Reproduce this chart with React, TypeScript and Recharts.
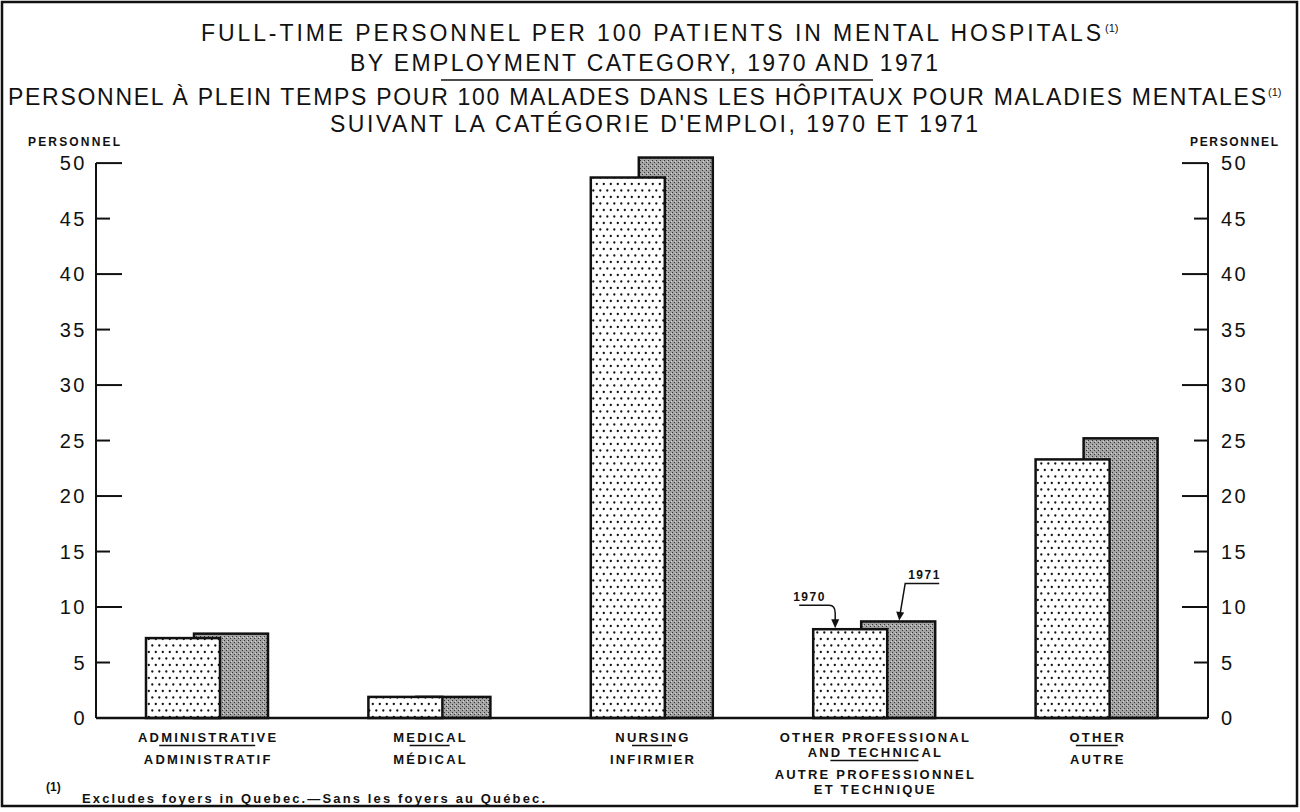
import { BarChart, Bar, XAxis, YAxis } from "recharts";

const categories = ["ADMINISTRATIVE", "MEDICAL", "NURSING", "OTHER PROFESSIONAL AND TECHNICAL", "OTHER"];
const englishLabels = [["ADMINISTRATIVE"], ["MEDICAL"], ["NURSING"], ["OTHER PROFESSIONAL", "AND TECHNICAL"], ["OTHER"]];
const frenchLabels = [["ADMINISTRATIF"], ["MÉDICAL"], ["INFIRMIER"], ["AUTRE PROFESSIONNEL", "ET TECHNIQUE"], ["AUTRE"]];
const values1970 = [7.2, 1.9, 48.7, 8.0, 23.3];
const values1971 = [7.6, 1.9, 50.5, 8.7, 25.2];
const yTicks = [0, 5, 10, 15, 20, 25, 30, 35, 40, 45, 50];
const annotated = "OTHER PROFESSIONAL AND TECHNICAL";

const data = categories.map((name, i) => ({ name, y1970: values1970[i], y1971: values1971[i] }));

const FONT = "'Liberation Sans', Arial, sans-serif";
// widths of the little rule between english and french labels
const sepWidth = [96, 40, 40, 88, 42];
// axis line stops at the 50 tick (domain goes to 51, ~11px per unit)
const axisLineStyle = { stroke: "#111", strokeWidth: 2, strokeDasharray: "0 11 1000" };

function CategoryTick(props: any) {
  const { x, y, index } = props;
  const en = englishLabels[index] || [];
  const fr = frenchLabels[index] || [];
  const base = y + 24;
  const sepY = base + (en.length - 1) * 15 + 3.5;
  const w = sepWidth[index] || 40;
  const st = { fontFamily: FONT, fontSize: 13, fontWeight: 700, letterSpacing: 2.2, fill: "#111" };
  return (
    <g>
      {en.map((t, i) => (
        <text key={"e" + i} x={x + 1} y={base + i * 15} textAnchor="middle" style={st}>{t}</text>
      ))}
      <line x1={x - w / 2} x2={x + w / 2} y1={sepY} y2={sepY} stroke="#111" strokeWidth={1.5} />
      {fr.map((t, i) => (
        <text key={"f" + i} x={x + 1} y={sepY + 18 + i * 15} textAnchor="middle" style={st}>{t}</text>
      ))}
    </g>
  );
}

function LeftTick(props: any) {
  const { x, y, payload } = props;
  const len = payload.value % 10 === 0 ? 26 : 14;
  return (
    <g>
      <line x1={x + 9} x2={x + 9 + len} y1={y} y2={y} stroke="#111" strokeWidth={2} />
      <text x={x} y={y + 7} textAnchor="end" style={{ fontFamily: FONT, fontSize: 20, letterSpacing: 2.5, fill: "#111" }}>{payload.value}</text>
    </g>
  );
}

function RightTick(props: any) {
  const { x, y, payload } = props;
  const len = payload.value % 10 === 0 ? 26 : 14;
  return (
    <g>
      <line x1={x - 13} x2={x - 13 - len} y1={y} y2={y} stroke="#111" strokeWidth={2} />
      <text x={x} y={y + 7} textAnchor="start" style={{ fontFamily: FONT, fontSize: 20, letterSpacing: 2.5, fill: "#111" }}>{payload.value}</text>
    </g>
  );
}

function PatternBar(props: any) {
  const { x, y, width, height, fill, payload, year } = props;
  const noteStyle = { fontFamily: FONT, fontSize: 12, fontWeight: 700, letterSpacing: 1.5, fill: "#111" };
  const showNote = payload && payload.name === annotated;
  return (
    <g>
      <rect x={x} y={y} width={width} height={height} fill={fill} stroke="#111" strokeWidth={2.5} />
      {showNote && year === "1970" && (
        <g>
          <text x={x - 20} y={y - 28} style={noteStyle}>1970</text>
          <path d={`M ${x - 14} ${y - 24} H ${x + 16} Q ${x + 22} ${y - 24} ${x + 22} ${y - 16} V ${y - 6}`} fill="none" stroke="#111" strokeWidth={1.5} />
          <path d={`M ${x + 22} ${y - 1} L ${x + 18} ${y - 10} L ${x + 26} ${y - 10} Z`} fill="#111" />
        </g>
      )}
      {showNote && year === "1971" && (
        <g>
          <text x={x + 47} y={y - 42} style={noteStyle}>1971</text>
          <path d={`M ${x + 78} ${y - 38} H ${x + 44} L ${x + 39} ${y - 8}`} fill="none" stroke="#111" strokeWidth={1.5} />
          <path d={`M ${x + 38} ${y - 1} L ${x + 35} ${y - 10} L ${x + 43} ${y - 9} Z`} fill="#111" />
        </g>
      )}
    </g>
  );
}

const titleStyle = { fontFamily: FONT, fontSize: 23, fill: "#111" };
const supStyle = { fontFamily: FONT, fontSize: 11, fill: "#111" };

export default function App() {
  return (
    <div style={{ position: "absolute", left: 0, top: 0, width: 1300, height: 812, background: "#fff" }}>
      <BarChart
        width={1300}
        height={812}
        data={data}
        margin={{ top: 152, right: 6, bottom: 14, left: 6 }}
        barSize={74}
      >
        <defs>
          <pattern id="dots70" width="7" height="13" patternUnits="userSpaceOnUse">
            <rect width="7" height="13" fill="#fff" />
            <circle cx="1.8" cy="2" r="1.15" fill="#111" />
            <circle cx="5.3" cy="8.5" r="1.15" fill="#111" />
          </pattern>
          <pattern id="grey71" width="4" height="4" patternUnits="userSpaceOnUse">
            <rect width="4" height="4" fill="#a4a4a4" />
            <rect x="0" y="0" width="1" height="1" fill="#333" />
            <rect x="2" y="2" width="1" height="1" fill="#333" />
            <rect x="3" y="1" width="1" height="1" fill="#d8d8d8" />
          </pattern>
        </defs>
        <rect x={2} y={2} width={1295} height={804} fill="none" stroke="#111" strokeWidth={2.5} />

        <XAxis
          xAxisId="lab"
          dataKey="name"
          height={80}
          axisLine={{ stroke: "#111", strokeWidth: 2.5 }}
          tickLine={false}
          tickSize={0}
          tickMargin={0}
          interval={0}
          tick={<CategoryTick />}
        />
        <XAxis xAxisId="a70" dataKey="name" hide height={0} padding={{ left: -24, right: 24 }} />
        <XAxis xAxisId="a71" dataKey="name" hide height={0} padding={{ left: 24, right: -24 }} />

        <YAxis
          yAxisId="left"
          orientation="left"
          width={90}
          domain={[0, 51]}
          ticks={yTicks}
          interval={0}
          axisLine={axisLineStyle}
          tickLine={false}
          tickSize={0}
          tickMargin={9}
          tick={<LeftTick />}
        />
        <YAxis
          yAxisId="right"
          orientation="right"
          width={86}
          domain={[0, 51]}
          ticks={yTicks}
          interval={0}
          axisLine={axisLineStyle}
          tickLine={false}
          tickSize={0}
          tickMargin={13}
          tick={<RightTick />}
        />

        <Bar xAxisId="a71" yAxisId="right" dataKey="y1971" fill="url(#grey71)" isAnimationActive={false}
          shape={(p: any) => <PatternBar {...p} year="1971" />} />
        <Bar xAxisId="a70" yAxisId="left" dataKey="y1970" fill="url(#dots70)" isAnimationActive={false}
          shape={(p: any) => <PatternBar {...p} year="1970" />} />

        <text x={201} y={41} textLength={900} lengthAdjust="spacing" style={titleStyle}>FULL-TIME PERSONNEL PER 100 PATIENTS IN MENTAL HOSPITALS</text>
        <text x={1105} y={32} style={supStyle}>(1)</text>
        <text x={350} y={71} textLength={588} lengthAdjust="spacing" style={titleStyle}>BY EMPLOYMENT CATEGORY, 1970 AND 1971</text>
        <line x1={441} x2={873} y1={80} y2={80} stroke="#111" strokeWidth={1.5} />
        <text x={8} y={105} textLength={1258} lengthAdjust="spacing" style={titleStyle}>PERSONNEL À PLEIN TEMPS POUR 100 MALADES DANS LES HÔPITAUX POUR MALADIES MENTALES</text>
        <text x={1268} y={96} style={supStyle}>(1)</text>
        <text x={330} y={132} textLength={648} lengthAdjust="spacing" style={titleStyle}>SUIVANT LA CATÉGORIE D'EMPLOI, 1970 ET 1971</text>

        <text x={28} y={146} textLength={92} lengthAdjust="spacing" style={{ fontFamily: FONT, fontSize: 12, fontWeight: 700, fill: "#111" }}>PERSONNEL</text>
        <text x={1190} y={146} textLength={88} lengthAdjust="spacing" style={{ fontFamily: FONT, fontSize: 12, fontWeight: 700, fill: "#111" }}>PERSONNEL</text>

        <text x={46} y={791} style={{ fontFamily: FONT, fontSize: 12, fontWeight: 700, fill: "#111" }}>(1)</text>
        <text x={82} y={803} textLength={463} lengthAdjust="spacing" style={{ fontFamily: FONT, fontSize: 13, fontWeight: 700, fill: "#111" }}>Excludes foyers in Quebec.—Sans les foyers au Québec.</text>
      </BarChart>
    </div>
  );
}
